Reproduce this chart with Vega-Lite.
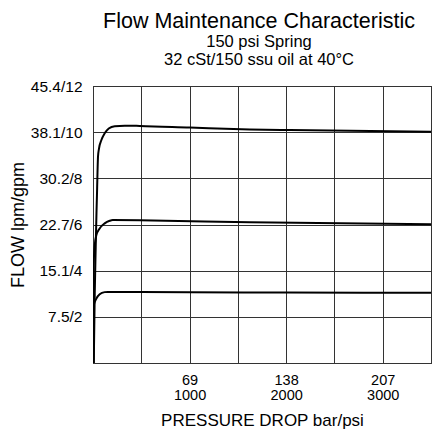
{
  "$schema": "https://vega.github.io/schema/vega-lite/v6.json",
  "autosize": "none",
  "padding": {"left": 93, "top": 86, "right": 2, "bottom": 66},
  "width": 338,
  "height": 277,
  "background": "white",
  "config": {
    "font": "Liberation Sans",
    "view": {"stroke": "#000", "strokeWidth": 1},
    "axis": {
      "domain": false,
      "ticks": false,
      "grid": true,
      "gridColor": "#333",
      "gridOpacity": 1,
      "gridWidth": 1,
      "labelColor": "#000",
      "titleColor": "#000",
      "labelFont": "Liberation Sans",
      "titleFont": "Liberation Sans",
      "titleFontWeight": "normal",
      "labelOverlap": false,
      "labelFlush": false
    }
  },
  "title": {
    "text": "Flow Maintenance Characteristic",
    "subtitle": ["150 psi Spring", "32 cSt/150 ssu oil at 40°C"],
    "anchor": "middle",
    "frame": "group",
    "dx": -3,
    "font": "Liberation Sans",
    "fontSize": 21.5,
    "fontWeight": "normal",
    "color": "#000",
    "subtitleFont": "Liberation Sans",
    "subtitleFontSize": 16.5,
    "subtitleLineHeight": 18,
    "subtitleColor": "#000",
    "subtitlePadding": 1,
    "offset": 11
  },
  "data": {
    "values": [
      {"series": "high", "psi": 8, "gpm": 0},
      {"series": "high", "psi": 18, "gpm": 3.0},
      {"series": "high", "psi": 28, "gpm": 5.0},
      {"series": "high", "psi": 36, "gpm": 6.5},
      {"series": "high", "psi": 41, "gpm": 7.27},
      {"series": "high", "psi": 52, "gpm": 8.95},
      {"series": "high", "psi": 62, "gpm": 9.29},
      {"series": "high", "psi": 87, "gpm": 9.66},
      {"series": "high", "psi": 121, "gpm": 9.95},
      {"series": "high", "psi": 163, "gpm": 10.16},
      {"series": "high", "psi": 225, "gpm": 10.26},
      {"series": "high", "psi": 329, "gpm": 10.28},
      {"series": "high", "psi": 484, "gpm": 10.27},
      {"series": "high", "psi": 1002, "gpm": 10.2},
      {"series": "high", "psi": 1624, "gpm": 10.12},
      {"series": "high", "psi": 2039, "gpm": 10.09},
      {"series": "high", "psi": 3500, "gpm": 10.02},
      {"series": "mid", "psi": 5, "gpm": 0},
      {"series": "mid", "psi": 7, "gpm": 4.24},
      {"series": "mid", "psi": 18, "gpm": 5.1},
      {"series": "mid", "psi": 35, "gpm": 5.54},
      {"series": "mid", "psi": 69, "gpm": 5.83},
      {"series": "mid", "psi": 121, "gpm": 6.05},
      {"series": "mid", "psi": 173, "gpm": 6.16},
      {"series": "mid", "psi": 204, "gpm": 6.19},
      {"series": "mid", "psi": 484, "gpm": 6.18},
      {"series": "mid", "psi": 1624, "gpm": 6.1},
      {"series": "mid", "psi": 3500, "gpm": 6.01},
      {"series": "low", "psi": 4, "gpm": 0},
      {"series": "low", "psi": 6, "gpm": 2.3},
      {"series": "low", "psi": 8, "gpm": 2.5},
      {"series": "low", "psi": 35, "gpm": 2.79},
      {"series": "low", "psi": 69, "gpm": 2.98},
      {"series": "low", "psi": 121, "gpm": 3.07},
      {"series": "low", "psi": 155, "gpm": 3.08},
      {"series": "low", "psi": 1000, "gpm": 3.07},
      {"series": "low", "psi": 2000, "gpm": 3.05},
      {"series": "low", "psi": 3500, "gpm": 3.04}
    ]
  },
  "mark": {"type": "line", "color": "#000", "strokeWidth": 2, "interpolate": "monotone", "clip": true},
  "encoding": {
    "x": {
      "field": "psi",
      "type": "quantitative",
      "scale": {"domain": [0, 3500], "nice": false, "zero": false},
      "axis": {
        "title": "PRESSURE DROP bar/psi",
        "titleFontSize": 17,
        "titlePadding": 11,
        "values": [0, 500, 1000, 1500, 2000, 2500, 3000, 3500],
        "labelExpr": "datum.value == 1000 ? ['69', '1000'] : datum.value == 2000 ? ['138', '2000'] : datum.value == 3000 ? ['207', '3000'] : ''",
        "labelFontSize": 14.5,
        "labelLineHeight": 15,
        "labelPadding": 10
      }
    },
    "y": {
      "field": "gpm",
      "type": "quantitative",
      "scale": {"domain": [0, 12], "nice": false},
      "axis": {
        "title": "FLOW lpm/gpm",
        "titleFontSize": 18,
        "titlePadding": 3,
        "values": [0, 2, 4, 6, 8, 10, 12],
        "labelExpr": "datum.value == 2 ? '7.5/2' : datum.value == 4 ? '15.1/4' : datum.value == 6 ? '22.7/6' : datum.value == 8 ? '30.2/8' : datum.value == 10 ? '38.1/10' : datum.value == 12 ? '45.4/12' : ''",
        "labelFontSize": 15.5,
        "labelPadding": 11
      }
    },
    "detail": {"field": "series"}
  }
}
